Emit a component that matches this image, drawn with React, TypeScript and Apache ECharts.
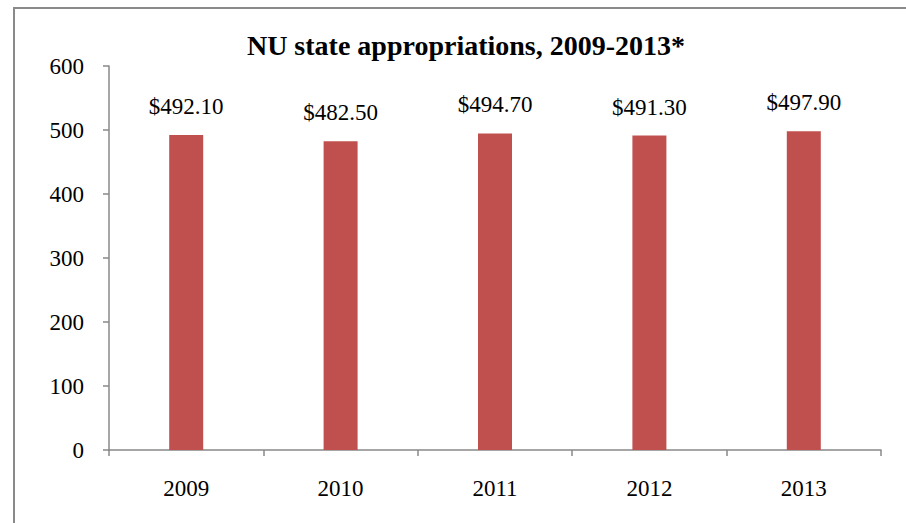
import React, { useEffect, useRef } from "react";
import * as echarts from "echarts";

const categories = ["2009", "2010", "2011", "2012", "2013"];
const values = [492.1, 482.5, 494.7, 491.3, 497.9];
const titleText = "NU state appropriations, 2009-2013*";

const FONT = "Liberation Serif";

export default function App() {
  const ref = useRef<HTMLDivElement>(null);
  useEffect(() => {
    const chart = echarts.init(ref.current!, null, { renderer: "svg" });
    chart.setOption({
      animation: false,
      backgroundColor: "#ffffff",
      textStyle: { fontFamily: FONT },
      title: {
        text: titleText,
        left: 461,
        textAlign: "center",
        top: 26,
        textStyle: { fontFamily: FONT, fontSize: 28, fontWeight: "bold", color: "#000" },
      },
      graphic: [
        {
          type: "rect",
          shape: { x: 14, y: 8, width: 1000, height: 700 },
          style: { fill: "none", stroke: "#8a8a8a", lineWidth: 2 },
          silent: true,
        },
      ],
      grid: { left: 109, right: 25, top: 66, bottom: 73 },
      xAxis: {
        type: "category",
        data: categories,
        axisLine: { lineStyle: { color: "#888", width: 1.5 } },
        axisTick: { show: true, length: 6, lineStyle: { color: "#888", width: 1.5 } },
        axisLabel: { fontFamily: FONT, fontSize: 23, color: "#000", margin: 27 },
      },
      yAxis: {
        type: "value",
        min: 0,
        max: 600,
        interval: 100,
        splitLine: { show: false },
        axisLine: { show: true, lineStyle: { color: "#888", width: 1.5 } },
        axisTick: { show: true, length: 6, lineStyle: { color: "#888", width: 1.5 } },
        axisLabel: { fontFamily: FONT, fontSize: 23, color: "#000", margin: 25 },
      },
      series: [
        {
          type: "bar",
          data: values,
          barWidth: 34,
          itemStyle: { color: "#C0504D" },
          label: {
            show: true,
            position: "top",
            distance: 17,
            fontFamily: FONT,
            fontSize: 23,
            color: "#000",
            formatter: (p: any) => "$" + Number(p.value).toFixed(2),
          },
        },
      ],
    });
    return () => chart.dispose();
  }, []);
  return (
    <div
      ref={ref}
      style={{ position: "fixed", left: 0, top: 0, width: 906, height: 523 }}
    />
  );
}
